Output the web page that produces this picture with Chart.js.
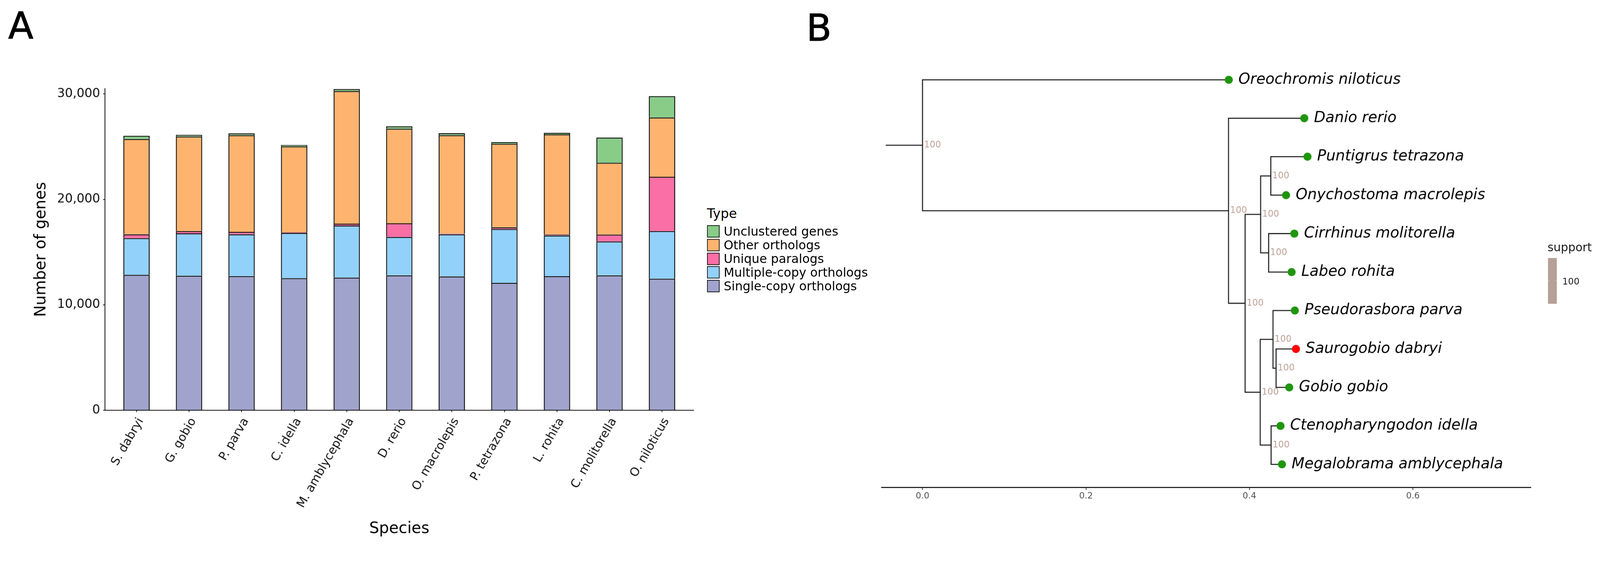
<!DOCTYPE html>
<html><head><meta charset="utf-8">
<script src="https://cdn.jsdelivr.net/npm/chart.js@4.4.1/dist/chart.umd.min.js"></script>
<style>
html,body{margin:0;padding:0;background:#fff;overflow:hidden;}
#wrap{position:absolute;left:0;top:0;width:4300px;height:1456px;overflow:hidden;background:#fff;font-family:'DejaVu Sans',sans-serif;transform-origin:0 0;}
canvas{position:absolute;top:0;}
.abs{position:absolute;white-space:nowrap;line-height:1;}
.panel{font-size:99px;color:#000;-webkit-text-stroke:1.4px #000;}
</style></head><body><div id="wrap">
<canvas id="cA" width="1880" height="1456" style="left:0px;width:1880px;height:1456px"></canvas>
<canvas id="cB" width="2100" height="1456" style="left:2200px;width:2100px;height:1456px"></canvas>
<div class="abs panel" style="left:22px;top:20px">A</div>
<div class="abs panel" style="left:2167px;top:25px">B</div>
<div id="legA"></div>
<div id="legB"></div>
</div>
<script>
// ---------- Panel A data ----------
const species = ['S. dabryi','G. gobio','P. parva','C. idella','M. amblycephala','D. rerio','O. macrolepis','P. tetrazona','L. rohita','C. molitorella','O. niloticus'];
const singleCopy     = [12846,12758,12722,12525,12578,12793,12694,12080,12712,12793,12475];
const multipleCopy   = [3478,4018,3962,4286,4936,3644,3983,5109,3863,3210,4517];
const uniqueParalogs = [360,216,233,60,180,1289,80,159,100,653,5151];
const otherOrthologs = [9043,8972,9171,8161,12574,8976,9333,7927,9488,6815,5629];
const unclustered    = [307,162,180,127,198,236,180,159,142,2398,2020];
const seriesNames  = ['Single-copy orthologs','Multiple-copy orthologs','Unique paralogs','Other orthologs','Unclustered genes'];
const seriesColors = ['#a0a3cc','#92d1fa','#f96fa6','#feb46e','#88cc88'];
const yTicks = [0,10000,20000,30000];

// ---------- Panel B data ----------
const tipNames = ['Oreochromis niloticus','Danio rerio','Puntigrus tetrazona','Onychostoma macrolepis','Cirrhinus molitorella','Labeo rohita','Pseudorasbora parva','Saurogobio dabryi','Gobio gobio','Ctenopharyngodon idella','Megalobrama amblycephala'];
const tipDepth = [0.3747,0.4671,0.4710,0.4448,0.4549,0.4516,0.4555,0.4569,0.4487,0.4380,0.4398];
const nodeIds = ['root','n1','n2','n3','n4','n5','n6','n7','n8','n9'];
const nodeChildren = [
  ['Oreochromis niloticus','n1'],
  ['Danio rerio','n2'],
  ['n3','n6'],
  ['n4','n5'],
  ['Puntigrus tetrazona','Onychostoma macrolepis'],
  ['Cirrhinus molitorella','Labeo rohita'],
  ['n7','n9'],
  ['Pseudorasbora parva','n8'],
  ['Saurogobio dabryi','Gobio gobio'],
  ['Ctenopharyngodon idella','Megalobrama amblycephala']
];
const nodeDepth = [0,0.3744,0.3947,0.4137,0.4261,0.4235,0.4132,0.4288,0.4326,0.4265];
const nodeSupport = [100,100,100,100,100,100,100,100,100,100];
const rootEdge = 0.045;
const highlightTip = 'Saurogobio dabryi';
const treeXTicks = [0,0.2,0.4,0.6];
const treeXTickLabels = ['0.0','0.2','0.4','0.6'];

// fit the 4300x1456 design into the actual viewport
(function(){
  const w = window.innerWidth || 4300, h = window.innerHeight || 1456;
  const s = Math.min(w / 4300, h / 1456);
  if (s > 0 && Math.abs(s - 1) > 0.002) document.getElementById('wrap').style.transform = 'scale(' + s + ')';
})();

const FONT = 'DejaVu Sans';
Chart.defaults.font.family = FONT;
const fmt = v => String(v).replace(/\B(?=(\d{3})+(?!\d))/g, ',');

// ---------- Chart A ----------
const seriesValues = [singleCopy, multipleCopy, uniqueParalogs, otherOrthologs, unclustered];
new Chart(document.getElementById('cA'), {
  type: 'bar',
  data: {
    datasets: seriesValues.map((arr, k) => ({
      label: seriesNames[k],
      data: arr.map((v, i) => ({x: i, y: v})),
      backgroundColor: seriesColors[k],
      borderColor: '#000',
      borderWidth: 2.5,
      borderSkipped: 'start',
      barPercentage: 0.5,
      categoryPercentage: 1.0
    }))
  },
  options: {
    responsive: false, animation: false, devicePixelRatio: 1,
    layout: {padding: {left: 0, top: 238, right: 16, bottom: 0}},
    plugins: {legend: {display: false}, tooltip: {enabled: false}},
    scales: {
      x: {
        type: 'linear', stacked: true, min: -0.6, max: 10.6, offset: false,
        afterBuildTicks: ax => { ax.ticks = species.map((s, i) => ({value: i})); },
        afterFit: s => { s.height = 354; },
        ticks: {autoSkip: false, minRotation: 60, maxRotation: 60, padding: 9, labelOffset: 12,
          callback: (v) => species[Math.round(v)], font: {size: 32}, color: '#111'},
        grid: {display: true, offset: false, drawOnChartArea: false, drawTicks: true, tickLength: 5, tickColor: '#111', lineWidth: 2, tickWidth: 2},
        border: {display: true, color: '#000', width: 2},
        title: {display: true, text: 'Species', font: {size: 42}, color: '#000', padding: {top: 0, bottom: 10}}
      },
      y: {
        type: 'linear', stacked: true, min: 0, max: 30510,
        afterBuildTicks: ax => { ax.ticks = yTicks.map(v => ({value: v})); },
        afterFit: s => { s.width = 282; },
        ticks: {callback: v => fmt(v), font: {size: 33}, color: '#111', padding: 8},
        grid: {display: true, drawOnChartArea: false, drawTicks: true, tickLength: 5, tickColor: '#111', lineWidth: 2, tickWidth: 2},
        border: {display: true, color: '#000', width: 2},
        title: {display: true, text: 'Number of genes', font: {size: 42}, color: '#000', padding: {top: 86, bottom: 0}}
      }
    }
  }
});

// Legend A (from series)
(function(){
  const leg = document.getElementById('legA');
  let html = '<div class="abs" style="left:1900px;top:557px;font-size:35px;color:#000">Type</div>';
  const order = seriesNames.map((n, i) => i).reverse();
  order.forEach((k, r) => {
    const top = 603.4 + r * 36.7;
    html += '<div class="abs" style="left:1900px;top:' + top + 'px;height:36.7px;display:flex;align-items:center">' +
      '<div style="width:34px;height:33px;box-sizing:border-box;border:2px solid #1a1a1a;background:' + seriesColors[k] + '"></div>' +
      '<div style="margin-left:11px;font-size:33px;line-height:1;color:#000">' + seriesNames[k] + '</div></div>';
  });
  leg.innerHTML = html;
})();

// ---------- Tree layout (ggtree-style: tip y by order, node y = mean of children) ----------
const tipY = {}, tipX = {};
tipNames.forEach((n, i) => { tipY[n] = tipNames.length - i; tipX[n] = tipDepth[i]; });
const nodeIndex = {};
nodeIds.forEach((id, i) => { nodeIndex[id] = i; });
function pos(id) {
  if (id in tipY) return {x: tipX[id], y: tipY[id]};
  const i = nodeIndex[id];
  const ch = nodeChildren[i].map(pos);
  return {x: nodeDepth[i], y: ch.reduce((s, c) => s + c.y, 0) / ch.length};
}
const treeLine = [];
function addPath(pts) { pts.forEach(p => treeLine.push(p)); treeLine.push({x: NaN, y: NaN}); }
const rootPos = pos('root');
addPath([{x: -rootEdge, y: rootPos.y}, {x: 0, y: rootPos.y}]);
const nodeLabels = [];
nodeIds.forEach((id, i) => {
  const p = pos(id);
  nodeLabels.push({x: p.x, y: p.y, text: String(nodeSupport[i])});
  nodeChildren[i].forEach(c => {
    const q = pos(c);
    addPath([{x: p.x, y: p.y}, {x: p.x, y: q.y}, {x: q.x, y: q.y}]);
  });
});
const tipPoints = tipNames.map(n => ({x: tipX[n], y: tipY[n], name: n}));
const tipColors = tipNames.map(n => n === highlightTip ? '#ff0000' : '#1e960c');

const treeText = {
  id: 'treeText',
  afterDatasetsDraw(chart) {
    const {ctx} = chart; const xs = chart.scales.x, ys = chart.scales.y;
    ctx.save();
    ctx.textAlign = 'left'; ctx.textBaseline = 'middle';
    ctx.font = 'italic 40px "' + FONT + '"'; ctx.fillStyle = '#000';
    tipPoints.forEach(t => ctx.fillText(t.name, xs.getPixelForValue(t.x) + 26, ys.getPixelForValue(t.y)));
    ctx.font = '24px "' + FONT + '"'; ctx.fillStyle = '#bd9f94';
    nodeLabels.forEach(n => ctx.fillText(n.text, xs.getPixelForValue(n.x) + 4, ys.getPixelForValue(n.y)));
    ctx.restore();
  }
};

new Chart(document.getElementById('cB'), {
  type: 'scatter',
  data: {
    datasets: [
      {type: 'line', data: treeLine, borderColor: '#1f1f1f', borderWidth: 2.8, pointRadius: 0, spanGaps: false, fill: false, tension: 0, order: 2, clip: false},
      {type: 'scatter', data: tipPoints, pointRadius: 10.8, pointHoverRadius: 10.8, pointBackgroundColor: tipColors, pointBorderWidth: 0, borderWidth: 0, order: 1, clip: false}
    ]
  },
  options: {
    responsive: false, animation: false, devicePixelRatio: 1,
    layout: {padding: {left: 169.4, right: 186.5, top: 152.3, bottom: 0}},
    plugins: {legend: {display: false}, tooltip: {enabled: false}},
    scales: {
      x: {
        type: 'linear', min: -0.05, max: 0.744,
        afterBuildTicks: ax => { ax.ticks = treeXTicks.map(v => ({value: v})); },
        afterFit: s => { s.height = 146.7; },
        ticks: {autoSkip: false, maxRotation: 0, padding: 3, color: '#4d4d4d', font: {size: 23},
          callback: (v, i) => treeXTickLabels[i]},
        grid: {display: true, drawOnChartArea: false, drawTicks: true, tickLength: 7, tickColor: '#333', lineWidth: 2, tickWidth: 2},
        border: {display: true, color: '#111', width: 2.7}
      },
      y: {type: 'linear', display: false, min: 0.4, max: 11.6}
    }
  },
  plugins: [treeText]
});

// Legend B (support)
(function(){
  const leg = document.getElementById('legB');
  const col = '#b7a097';
  leg.innerHTML =
    '<div class="abs" style="left:4159px;top:649px;font-size:31px;color:#1a1a1a">support</div>' +
    '<div class="abs" style="left:4160px;top:693px;width:24px;height:123px;background:' + col + '"></div>' +
    '<div class="abs" style="left:4160px;top:752.5px;width:5px;height:1.5px;background:#dccbc3"></div>' +
    '<div class="abs" style="left:4179px;top:752.5px;width:5px;height:1.5px;background:#dccbc3"></div>' +
    '<div class="abs" style="left:4199px;top:743.5px;font-size:24px;color:#1a1a1a">' + nodeSupport[0] + '</div>';
})();
</script>
</body></html>
